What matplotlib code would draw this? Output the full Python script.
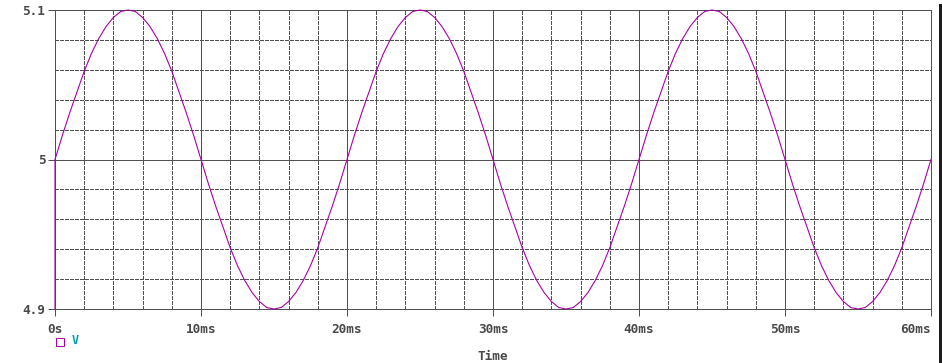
import matplotlib
matplotlib.use("Agg")
import matplotlib.pyplot as plt
from matplotlib.lines import Line2D
from matplotlib.patches import Rectangle

# trace samples every 0.5 ms (first point is the jump up at t=0,
# it starts below the visible range so 4.9 is used)
time_ms = [0.0] + [i * 0.5 for i in range(121)]
volts = [4.900,
    5.000, 5.016, 5.031, 5.045, 5.059, 5.071, 5.081, 5.089, 5.095, 5.099,
    5.100, 5.099, 5.095, 5.089, 5.081, 5.071, 5.059, 5.045, 5.031, 5.016,
    5.000, 4.984, 4.969, 4.955, 4.941, 4.929, 4.919, 4.911, 4.905, 4.901,
    4.900, 4.901, 4.905, 4.911, 4.919, 4.929, 4.941, 4.955, 4.969, 4.984,
    5.000, 5.016, 5.031, 5.045, 5.059, 5.071, 5.081, 5.089, 5.095, 5.099,
    5.100, 5.099, 5.095, 5.089, 5.081, 5.071, 5.059, 5.045, 5.031, 5.016,
    5.000, 4.984, 4.969, 4.955, 4.941, 4.929, 4.919, 4.911, 4.905, 4.901,
    4.900, 4.901, 4.905, 4.911, 4.919, 4.929, 4.941, 4.955, 4.969, 4.984,
    5.000, 5.016, 5.031, 5.045, 5.059, 5.071, 5.081, 5.089, 5.095, 5.099,
    5.100, 5.099, 5.095, 5.089, 5.081, 5.071, 5.059, 5.045, 5.031, 5.016,
    5.000, 4.984, 4.969, 4.955, 4.941, 4.929, 4.919, 4.911, 4.905, 4.901,
    4.900, 4.901, 4.905, 4.911, 4.919, 4.929, 4.941, 4.955, 4.969, 4.984,
    5.000,
]

x_ticks = [0, 10, 20, 30, 40, 50, 60]
x_labels = ["0s", "10ms", "20ms", "30ms", "40ms", "50ms", "60ms"]
y_ticks = [4.9, 5.0, 5.1]
y_labels = ["4.9", "5", "5.1"]
x_minor = [2, 4, 6, 8, 12, 14, 16, 18, 22, 24, 26, 28, 32, 34, 36, 38,
           42, 44, 46, 48, 52, 54, 56, 58]
y_minor = [4.92, 4.94, 4.96, 4.98, 5.02, 5.04, 5.06, 5.08]

GRAY = "#505050"
TRACE = "#a800a8"
TEAL = "#00a0a8"
px = 0.72  # one pixel in points at dpi 100

plt.rcParams["font.family"] = "DejaVu Sans Mono"
plt.rcParams["font.weight"] = "bold"

fig = plt.figure(figsize=(9.42, 3.63), dpi=100)
ax = fig.add_axes([55 / 942, 1 - 309 / 363, 876 / 942, 299 / 363])

ax.set_xlim(0, 60)
ax.set_ylim(4.9, 5.1)

for xm in x_minor:
    ax.axvline(xm, color=GRAY, lw=px, ls=(0, (3, 2)), antialiased=False, zorder=1)
for ym in y_minor:
    ax.axhline(ym, color=GRAY, lw=px, ls=(0, (3, 2)), antialiased=False, zorder=1)
for xt in x_ticks[1:-1]:
    ax.axvline(xt, color=GRAY, lw=px, antialiased=False, zorder=1)
ax.axhline(5.0, color=GRAY, lw=px, antialiased=False, zorder=1)

ax.plot(time_ms, volts, color=TRACE, lw=1.1 * px, zorder=3, clip_on=False)

ax.set_xticks(x_ticks)
ax.set_xticklabels(x_labels)
ax.set_yticks(y_ticks)
ax.set_yticklabels(y_labels)
ax.tick_params(axis="both", colors=GRAY, labelcolor="#4a4a4a", length=5,
               width=px, labelsize=9.2, pad=2)
ax.tick_params(axis="x", pad=5)
# last time label sits flush with the right frame
ax.get_xticklabels()[-1].set_horizontalalignment("right")
for s in ax.spines.values():
    s.set_color(GRAY)
    s.set_linewidth(px)

fig.text(493 / 942, 1 - 357 / 363, "Time", ha="center", va="center",
         fontsize=9.2, color="#4a4a4a", fontweight="bold")

# legend entry
fig.add_artist(Line2D([60 / 942], [1 - 342 / 363], marker="s", markersize=5.5,
                      markerfacecolor="none", markeredgecolor=TRACE,
                      markeredgewidth=px, transform=fig.transFigure))
fig.text(72 / 942, 1 - 341 / 363, "V", ha="left", va="center",
         fontsize=8.5, color=TEAL, fontweight="bold")

# dark window edge on the right
fig.add_artist(Rectangle((939 / 942, 0), 3 / 942, 1 - 4 / 363,
                         transform=fig.transFigure, color="#1c1c1c", lw=0))

fig.savefig("out.png", dpi=100)
